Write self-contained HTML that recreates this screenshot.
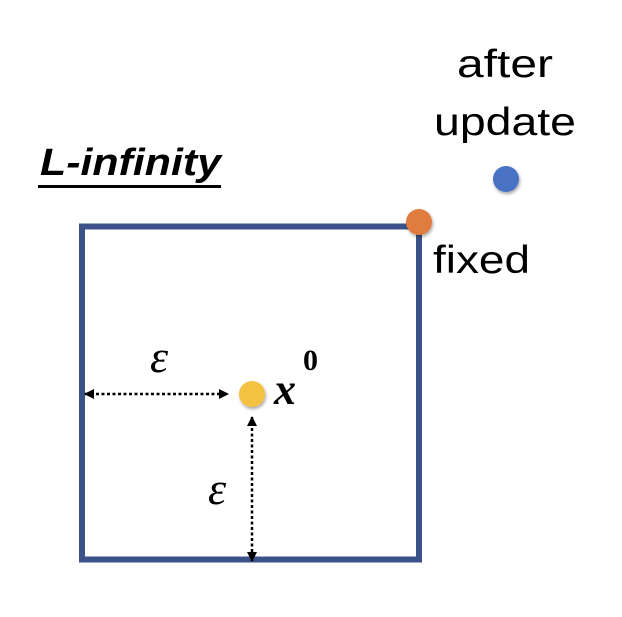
<!DOCTYPE html>
<html><head><style>
html,body{margin:0;padding:0;background:#fff;}
</style></head><body>
<svg width="622" height="612" viewBox="0 0 622 612" xmlns="http://www.w3.org/2000/svg">
<defs>
<marker id="a" markerWidth="10" markerHeight="10" refX="9" refY="5" orient="auto-start-reverse" markerUnits="userSpaceOnUse">
<path d="M0,0 L10,5 L0,10 z" fill="#000"/></marker>
<filter id="s" x="-50%" y="-50%" width="200%" height="200%"><feDropShadow dx="1" dy="2" stdDeviation="1.5" flood-opacity="0.35"/></filter>
</defs>
<rect x="82" y="226.5" width="337" height="333" fill="none" stroke="#3a5289" stroke-width="6"/>
<line x1="85" y1="394" x2="228" y2="394" stroke="#000" stroke-width="2.5" stroke-dasharray="3,2.5" marker-start="url(#a)" marker-end="url(#a)"/>
<line x1="252" y1="417" x2="252" y2="561" stroke="#000" stroke-width="2.5" stroke-dasharray="3,2.5" marker-start="url(#a)" marker-end="url(#a)"/>
<circle cx="419" cy="222" r="13" fill="#e07b3d" filter="url(#s)"/>
<circle cx="252" cy="394" r="13" fill="#f3c23f" filter="url(#s)"/>
<circle cx="506" cy="179" r="13" fill="#4a72c4" filter="url(#s)"/>
<g font-family="Liberation Sans, sans-serif" fill="#000">
<text x="505" y="77" font-size="39" text-anchor="middle" textLength="96" lengthAdjust="spacingAndGlyphs">after</text>
<text x="505" y="135" font-size="39" text-anchor="middle" textLength="142" lengthAdjust="spacingAndGlyphs">update</text>
<text x="433" y="273" font-size="39" textLength="97" lengthAdjust="spacingAndGlyphs">fixed</text>
<text x="40" y="175" font-size="38" font-weight="bold" font-style="italic" textLength="181" lengthAdjust="spacingAndGlyphs">L-infinity</text>
<text x="150" y="372" font-size="46" font-family="Liberation Serif, serif" font-style="italic">ε</text>
<text x="208" y="504" font-size="46" font-family="Liberation Serif, serif" font-style="italic">ε</text>
<text x="274" y="404" font-size="44" font-family="Liberation Serif, serif" font-weight="bold" font-style="italic">x</text>
<text x="303" y="370" font-size="30" font-family="Liberation Serif, serif" font-weight="bold">0</text>
</g>
<rect x="38" y="185" width="183" height="3" fill="#000"/>
</svg>
</body></html>
